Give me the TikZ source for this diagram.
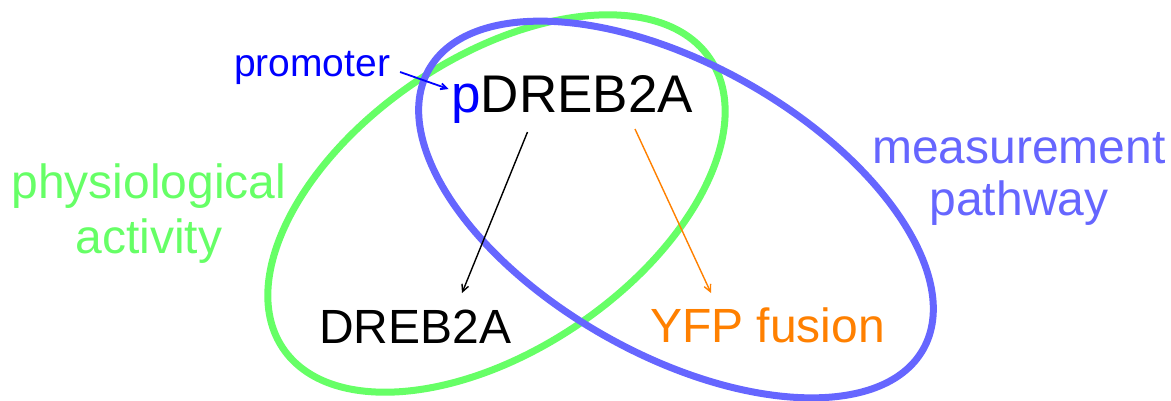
\documentclass[tikz,border=0pt]{standalone}
\usepackage{fontspec}
\setmainfont{Liberation Sans}
\usetikzlibrary{arrows.meta}

\definecolor{physgreen}{RGB}{102,255,102}
\definecolor{measblue}{RGB}{102,102,255}
\definecolor{promblue}{RGB}{0,0,255}
\definecolor{yfporange}{RGB}{255,128,0}

\tikzset{
  ring/.style={line width=7pt},
  lbl/.style={inner sep=0pt, outer sep=0pt},
  conn/.style={line width=1.4pt, -{Straight Barb[length=7pt,width=7pt]}},
}

\begin{document}
\begin{tikzpicture}[x=1pt,y=-1pt]
\useasboundingbox (0,0) rectangle (1171,400);

% the two overlapping sets
\coordinate (gc) at (496.5,203.5);
\coordinate (bc) at (676,209.5);
\draw[ring, physgreen, rotate around={34.2:(gc)}] (gc) ellipse [x radius=258pt, y radius=146pt];
\draw[ring, measblue, rotate around={-29.5:(bc)}] (bc) ellipse [x radius=284pt, y radius=145pt];

% labels
\node[lbl, anchor=base west, text=promblue, font=\fontsize{39}{44}\selectfont] (prom) at (234,76) {promoter};
\node[lbl, anchor=base west, font=\fontsize{53}{60}\selectfont] (pdreb) at (451.5,112) {\textcolor{promblue}{p}DREB2A};
\node[lbl, anchor=base west, font=\fontsize{48}{55}\selectfont] (dreb) at (319,343) {DREB2A};
\node[lbl, anchor=base west, text=yfporange, font=\fontsize{48}{55}\selectfont] (yfp) at (650,342) {YFP fusion};

\node[lbl, anchor=base, text=physgreen, font=\fontsize{48}{55}\selectfont] (phys1) at (149,198) {physiological};
\node[lbl, anchor=base, text=physgreen, font=\fontsize{48}{55}\selectfont] (phys2) at (149,253) {activity};
\node[lbl, anchor=base, text=measblue, font=\fontsize{48}{55}\selectfont] (meas1) at (1019,163.5) {measurement};
\node[lbl, anchor=base, text=measblue, font=\fontsize{48}{55}\selectfont] (meas2) at (1019,215) {pathway};

% connectors
\draw[conn, promblue, line width=1.8pt, -{Straight Barb[length=6pt,width=6pt]}]
  ([xshift=10pt,yshift=4pt]prom.base east) -- ([xshift=-3pt,yshift=23pt]pdreb.base west);
\draw[conn, black]
  ([xshift=76pt,yshift=-20pt]pdreb.base west) -- ([xshift=143pt,yshift=50pt]dreb.base west);
\draw[conn, yfporange]
  ([xshift=183.5pt,yshift=-17pt]pdreb.base west) -- ([xshift=61pt,yshift=49pt]yfp.base west);
\end{tikzpicture}
\end{document}
